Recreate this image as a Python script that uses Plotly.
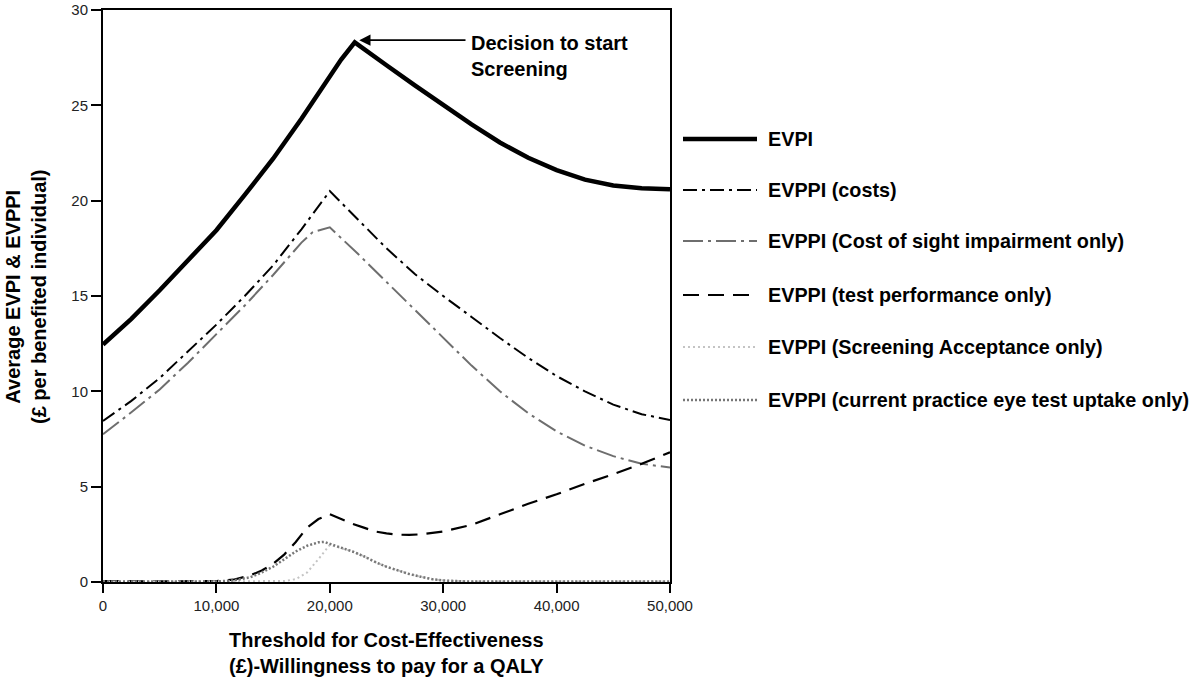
import plotly.graph_objects as go

# threshold values in £ (thousands) and EVPI/EVPPI per series
evpi_x = [0, 2.5, 5, 7.5, 10, 12.5, 15, 17.5, 20, 21, 22.2, 23.5, 25, 27.5, 30, 32.5, 35, 37.5, 40, 42.5, 45, 47.5, 50]
evpi_y = [12.45, 13.8, 15.3, 16.85, 18.45, 20.3, 22.2, 24.3, 26.5, 27.4, 28.3, 27.72, 27.1, 26.05, 25.0, 24.0, 23.05, 22.25, 21.6, 21.1, 20.8, 20.65, 20.6]

costs_x = [0, 2.5, 5, 7.5, 10, 12.5, 15, 17.5, 20, 22.5, 25, 27.5, 30, 32.5, 35, 37.5, 40, 42.5, 45, 47.5, 50]
costs_y = [8.45, 9.5, 10.7, 12.1, 13.5, 15.0, 16.6, 18.5, 20.5, 19.0, 17.5, 16.15, 15.0, 13.9, 12.8, 11.75, 10.8, 10.0, 9.3, 8.8, 8.5]

sight_x = [0, 2.5, 5, 7.5, 10, 12.5, 15, 17.5, 18.5, 20, 22.5, 25, 27.5, 30, 32.5, 35, 37.5, 40, 42.5, 45, 47.5, 50]
sight_y = [7.75, 8.9, 10.1, 11.5, 13.0, 14.5, 16.1, 17.8, 18.35, 18.6, 17.2, 15.75, 14.25, 12.8, 11.35, 10.0, 8.85, 7.9, 7.15, 6.6, 6.2, 6.0]

test_x = [0, 5, 10, 11.5, 13, 14, 15, 16, 17, 18, 19, 20, 21, 22, 23, 24, 25, 26, 27, 28, 30, 32.5, 35, 37.5, 40, 42.5, 45, 47.5, 50]
test_y = [0.05, 0.03, 0.05, 0.12, 0.35, 0.6, 0.95, 1.45, 2.1, 2.85, 3.3, 3.55, 3.3, 3.05, 2.85, 2.65, 2.55, 2.48, 2.47, 2.5, 2.65, 3.0, 3.55, 4.1, 4.6, 5.15, 5.65, 6.2, 6.8]

accept_x = [0, 15, 16, 17, 18, 19, 20, 21, 22, 23, 24, 25, 26, 27, 28, 29, 30, 32, 50]
accept_y = [0.02, 0.02, 0.05, 0.15, 0.5, 1.2, 1.95, 1.78, 1.6, 1.35, 1.05, 0.8, 0.6, 0.42, 0.28, 0.15, 0.08, 0.03, 0.02]

uptake_x = [0, 10, 11.5, 13, 14, 15, 16, 17, 18, 19, 19.5, 20, 21, 22, 23, 24, 25, 26, 27, 28, 29, 30, 32, 50]
uptake_y = [0.03, 0.03, 0.08, 0.25, 0.5, 0.8, 1.2, 1.6, 1.9, 2.08, 2.1, 2.0, 1.8, 1.6, 1.35, 1.05, 0.8, 0.6, 0.42, 0.28, 0.15, 0.08, 0.03, 0.02]

x_ticks = [0, 10000, 20000, 30000, 40000, 50000]
y_ticks = [0, 5, 10, 15, 20, 25, 30]

series = [
    ("EVPI", evpi_x, evpi_y, dict(color="black", width=4.5, dash="solid")),
    ("EVPPI (costs)", costs_x, costs_y, dict(color="black", width=2, dash="14px,5px,3px,5px")),
    ("EVPPI (Cost of sight impairment only)", sight_x, sight_y, dict(color="#6e6e6e", width=2, dash="20px,5px,3px,5px")),
    ("EVPPI (test performance only)", test_x, test_y, dict(color="black", width=2.2, dash="16px,9px")),
    ("EVPPI (Screening Acceptance only)", accept_x, accept_y, dict(color="#c4c4c4", width=2, dash="2px,3px")),
    ("EVPPI (current practice eye test uptake only)", uptake_x, uptake_y, dict(color="#777777", width=2.5, dash="2px,2px")),
]

W, H = 1200, 681
# plot box in pixels
L, R, T, B = 103, 670, 10, 582


def px(x):
    return (x - L) / (R - L)


def py(y):
    return (B - y) / (B - T)


font = "Liberation Sans, Arial, Helvetica, sans-serif"
bold = dict(family=font, size=20, color="black", weight="bold")

fig = go.Figure()
for name, xs, ys, line in series:
    fig.add_trace(go.Scatter(
        x=[v * 1000 for v in xs], y=ys, mode="lines", name=name,
        line=line, showlegend=False,
    ))

# hand-made legend to the right of the plot box
legend_y = [139, 190, 241, 295, 347, 400]
shapes = []
annotations = []
for (name, xs, ys, line), yy in zip(series, legend_y):
    shapes.append(dict(
        type="line", xref="paper", yref="paper",
        x0=px(683), x1=px(757), y0=py(yy), y1=py(yy), line=line,
    ))
    annotations.append(dict(
        xref="paper", yref="paper", x=px(766), y=py(yy),
        xanchor="left", yanchor="middle", showarrow=False,
        text=name, font=dict(bold, size=19.8),
    ))

# arrow to the EVPI peak
annotations.append(dict(
    x=22600, y=28.42, ax=32100, ay=28.42, xref="x", yref="y", axref="x", ayref="y",
    text="", showarrow=True, arrowhead=2, arrowsize=1.4, arrowwidth=1.6, arrowcolor="black",
))
annotations.append(dict(
    xref="paper", yref="paper", x=px(469), y=py(30),
    xanchor="left", yanchor="top", align="left", showarrow=False,
    text="Decision to start<br>Screening", font=bold,
))

# axis titles
annotations.append(dict(
    xref="paper", yref="paper", x=px(386), y=py(653),
    xanchor="center", yanchor="middle", showarrow=False,
    text="Threshold for Cost-Effectiveness<br>(£)-Willingness to pay for a QALY",
    font=bold,
))
annotations.append(dict(
    xref="paper", yref="paper", x=px(26), y=py(297),
    xanchor="center", yanchor="middle", showarrow=False, textangle=-90,
    text="Average EVPI & EVPPI<br>(£ per benefited individual)",
    font=bold,
))

fig.update_layout(
    width=W, height=H,
    margin=dict(l=L, r=W - R, t=T, b=H - B),
    plot_bgcolor="white", paper_bgcolor="white",
    font=dict(family=font, size=15, color="#222"),
    shapes=shapes, annotations=annotations,
    showlegend=False,
)
fig.update_xaxes(
    range=[0, 50000], tickvals=x_ticks, tickformat=",d", automargin=False,
    showgrid=False, zeroline=False, showline=True, linecolor="black", linewidth=2,
    mirror=True, ticks="outside", ticklen=9, tickwidth=2, tickcolor="black",
)
fig.update_yaxes(
    range=[0, 30], tickvals=y_ticks, automargin=False,
    showgrid=False, zeroline=False, showline=True, linecolor="black", linewidth=2,
    mirror=True, ticks="outside", ticklen=10, tickwidth=2, tickcolor="black",
)

# drop the browser's default body margin so the figure fills the window
fig.write_html(
    "out.html",
    config={"displayModeBar": False},
    post_script="document.body.style.margin = '0';",
)
